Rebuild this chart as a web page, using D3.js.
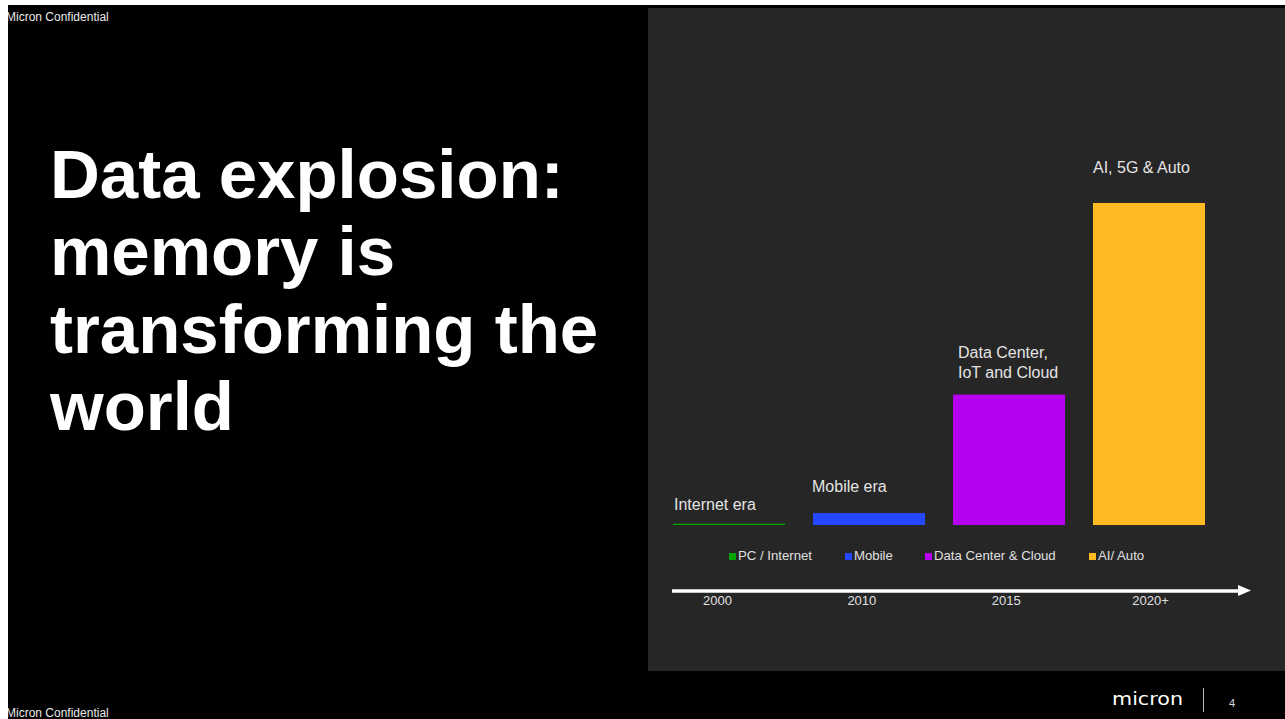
<!DOCTYPE html>
<html><head><meta charset="utf-8">
<script src="https://cdn.jsdelivr.net/npm/d3@7"></script>
<style>
html,body{margin:0;padding:0;background:#fff;overflow:hidden;}
svg{display:block;font-family:"Liberation Sans",Arial,sans-serif;}
</style></head>
<body>
<svg id="c" width="1285" height="719"></svg>
<script>
const categories = ["PC / Internet","Mobile","Data Center & Cloud","AI/ Auto"];
const values = [0.4, 3.7, 40.5, 100];
const eraLabels = [["Internet era"],["Mobile era"],["Data Center,","IoT and Cloud"],["AI, 5G & Auto"]];
const colors = ["#00A300","#2447FF","#B600F2","#FFBB21"];
const tickLabels = ["2000","2010","2015","2020+"];
const titleLines = ["Data explosion:","memory is","transforming the","world"];
const labelGap = [14, 21, 17, 30];
const labelDx = [1, -1, 5, 0];

const svg = d3.select("#c");
// slide background
svg.append("rect").attr("x",8).attr("y",5).attr("width",1277).attr("height",714).attr("fill","#000");
// dark panel
svg.append("rect").attr("x",648).attr("y",8).attr("width",637).attr("height",663).attr("fill","#262626");

// title
const title = svg.append("text").attr("fill","#fff").attr("font-weight","bold").attr("font-size",69);
titleLines.forEach((t,i)=>title.append("tspan").attr("x",50).attr("y",198+i*77.4).text(t));

// confidential
const clip = svg.append("defs").append("clipPath").attr("id","slideclip");
clip.append("rect").attr("x",8).attr("y",5).attr("width",1277).attr("height",714);
const g0 = svg.append("g").attr("clip-path","url(#slideclip)");
g0.append("text").attr("x",6).attr("y",21).attr("fill","#e8e8e8").attr("font-size",12).text("Micron Confidential");
g0.append("text").attr("x",6).attr("y",717).attr("fill","#e8e8e8").attr("font-size",12).text("Micron Confidential");

// scales
const x = d3.scaleBand().domain(categories).range([659,1219]).paddingInner(0.2).paddingOuter(0.1);
const y = d3.scaleLinear().domain([0,100]).range([525,203]);

// bars
svg.append("g").selectAll("rect").data(categories).join("rect")
  .attr("x",d=>x(d)).attr("width",x.bandwidth())
  .attr("y",(d,i)=>y(values[i]))
  .attr("height",(d,i)=>y(0)-y(values[i]))
  .attr("fill",(d,i)=>colors[i]);

// era labels
categories.forEach((c,i)=>{
  const lines = eraLabels[i];
  const base = y(values[i]) - labelGap[i];
  const t = svg.append("text").attr("fill","#e4e4e4").attr("font-size",16);
  lines.forEach((l,j)=>t.append("tspan").attr("x",x(c)+labelDx[i]).attr("y",base-(lines.length-1-j)*20).text(l));
});

// legend
const legX = [729, 845, 925, 1089];
const leg = svg.append("g");
categories.forEach((c,i)=>{
  leg.append("rect").attr("x",legX[i]).attr("y",553).attr("width",7).attr("height",7).attr("fill",colors[i]);
  leg.append("text").attr("x",legX[i]+9).attr("y",560).attr("fill","#e0e0e0").attr("font-size",13.2).text(c);
});

// timeline axis
const tx = d3.scalePoint().domain(tickLabels).range([717,1150]);
svg.append("line").attr("x1",672).attr("x2",1240).attr("y1",591).attr("y2",591).attr("stroke","#fff").attr("stroke-width",3.5);
svg.append("path").attr("d","M1238,585 L1251,590.5 L1238,596 Z").attr("fill","#fff");
const axisG = svg.append("g").attr("transform","translate(0,593)")
  .call(d3.axisBottom(tx).tickSize(0).tickPadding(3));
axisG.select(".domain").remove();
axisG.selectAll("text").attr("fill","#e0e0e0").attr("font-size",13).attr("font-family","Liberation Sans, Arial, sans-serif");

// footer
svg.append("text").attr("x",1112).attr("y",705).attr("fill","#fff").attr("font-size",18)
  .attr("font-family","DejaVu Sans, sans-serif").attr("textLength",71).attr("lengthAdjust","spacingAndGlyphs").text("micron");
svg.append("line").attr("x1",1203.5).attr("x2",1203.5).attr("y1",688).attr("y2",712).attr("stroke","#bbb").attr("stroke-width",1);
svg.append("text").attr("x",1229).attr("y",707).attr("fill","#ddd").attr("font-size",11).text("4");
</script>
</body></html>
